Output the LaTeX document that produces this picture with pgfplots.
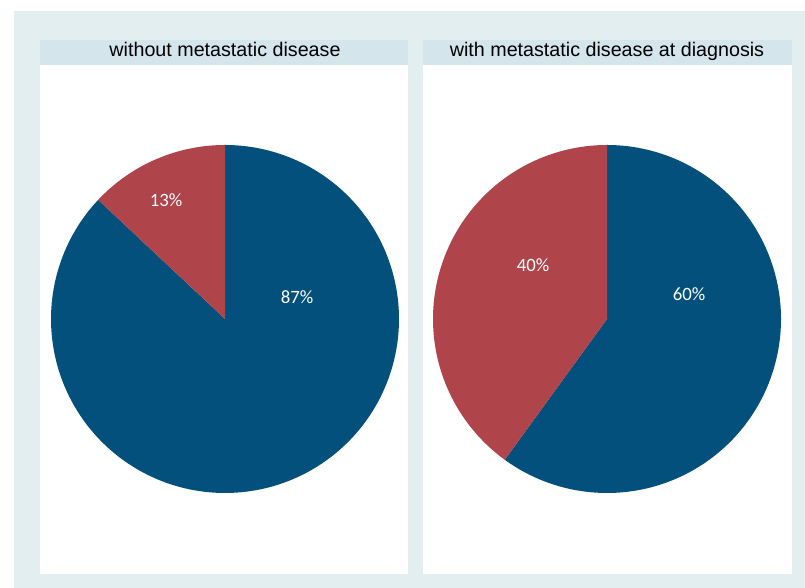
\documentclass[border=0pt]{standalone}
\usepackage{pgfplots}
\pgfplotsset{compat=1.18}
\usepackage{fontspec}
\setmainfont{Liberation Sans}
\newfontfamily\calfont{Carlito}
\definecolor{pieblue}{HTML}{03507D}
\definecolor{piered}{HTML}{AF444A}
\definecolor{bgcol}{HTML}{E2EEF0}
\definecolor{titlecol}{HTML}{D4E5EC}
\begin{document}
\begin{tikzpicture}[x=1bp,y=1bp]
\path[fill=white] (0,0) rectangle (805,588);
\fill[bgcol] (14,0) rectangle (805,577);
% panels
\fill[white] (40,14) rectangle (408,548);
\fill[titlecol] (40,523) rectangle (408,548);
\fill[white] (423,14) rectangle (792,548);
\fill[titlecol] (423,523) rectangle (792,548);
\node[anchor=base,font=\fontsize{19.7bp}{22bp}\selectfont] at (225,531.5) {without metastatic disease};
\node[anchor=base,font=\fontsize{19.7bp}{22bp}\selectfont] at (607,531.5) {with metastatic disease at diagnosis};
% pie 1: 87 / 13
\begin{axis}[at={(225bp,269bp)},anchor=center,x=1bp,y=1bp,
  xmin=-180,xmax=180,ymin=-180,ymax=180,hide axis,clip=false]
\addplot[fill=pieblue,draw=none,domain={90-3.6*87}:90,samples=200] ({174*cos(x)},{174*sin(x)}) -- (axis cs:0,0) -- cycle;
\addplot[fill=piered,draw=none,domain=90:{90+3.6*13},samples=60] ({174*cos(x)},{174*sin(x)}) -- (axis cs:0,0) -- cycle;
\node[text=white,font=\calfont\fontsize{18.8bp}{22bp}\selectfont] at (axis cs:72,22) {87\%};
\node[text=white,font=\calfont\fontsize{18.8bp}{22bp}\selectfont] at (axis cs:-59,119) {13\%};
\end{axis}
% pie 2: 60 / 40
\begin{axis}[at={(607bp,269bp)},anchor=center,x=1bp,y=1bp,
  xmin=-180,xmax=180,ymin=-180,ymax=180,hide axis,clip=false]
\addplot[fill=pieblue,draw=none,domain={90-3.6*60}:90,samples=200] ({174*cos(x)},{174*sin(x)}) -- (axis cs:0,0) -- cycle;
\addplot[fill=piered,draw=none,domain=90:{90+3.6*40},samples=150] ({174*cos(x)},{174*sin(x)}) -- (axis cs:0,0) -- cycle;
\node[text=white,font=\calfont\fontsize{18.8bp}{22bp}\selectfont] at (axis cs:82,25) {60\%};
\node[text=white,font=\calfont\fontsize{18.8bp}{22bp}\selectfont] at (axis cs:-74,54) {40\%};
\end{axis}
\end{tikzpicture}
\end{document}
